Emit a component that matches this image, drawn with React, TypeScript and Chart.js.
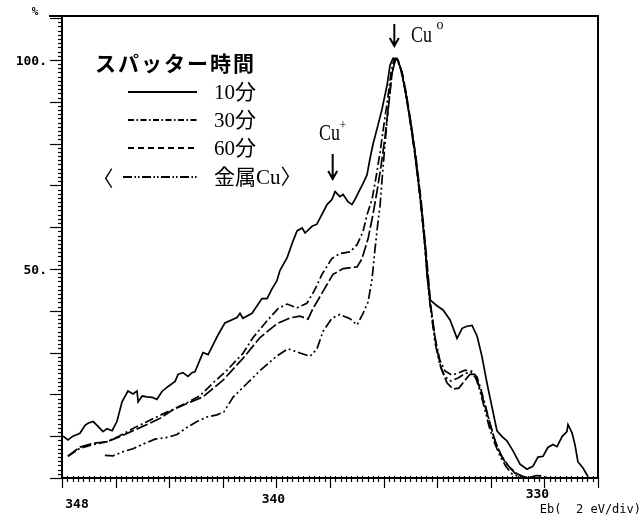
import React, { useEffect, useRef } from "react";
import { Chart, registerables } from "chart.js";

Chart.register(...registerables);

// ---- axis ----
const X_MIN = 328;
const X_MAX = 348;
const Y_MIN = 0;
const Y_MAX = 110.5;
const xTickLabels = [348, 340, 330];
const yTickLabels = [100, 50];

// ---- series: binding energy (eV) / intensity (%) ----
const eb10 = [347.96, 347.78, 347.59, 347.33, 347.14, 347.03, 346.84, 346.69, 346.47, 346.32, 346.13, 345.95, 345.76, 345.54, 345.35, 345.2, 345.16, 345.01, 344.83, 344.64, 344.46, 344.27, 344.04, 343.78, 343.67, 343.49, 343.3, 343.15, 343.04, 342.85, 342.74, 342.55, 342.37, 342.18, 341.92, 341.47, 341.36, 341.25, 340.91, 340.54, 340.35, 340.16, 339.98, 339.87, 339.6, 339.42, 339.23, 339.04, 338.93, 338.67, 338.49, 338.11, 337.93, 337.81, 337.63, 337.51, 337.33, 337.18, 337.07, 336.96, 336.77, 336.62, 336.51, 336.4, 336.21, 336.06, 335.87, 335.76, 335.65, 335.5, 335.35, 335.2, 335.01, 334.83, 334.64, 334.46, 334.38, 334.27, 334.01, 333.78, 333.52, 333.26, 333.07, 332.89, 332.7, 332.51, 332.33, 332.14, 331.96, 331.77, 331.58, 331.4, 331.17, 330.91, 330.65, 330.43, 330.24, 330.05, 329.87, 329.68, 329.53, 329.34, 329.16, 329.12, 328.97, 328.86, 328.75, 328.56, 328.37];
const int10 = [10.0, 9.1, 10.0, 10.7, 12.6, 13.1, 13.5, 12.6, 11.1, 11.8, 11.3, 13.5, 18.2, 20.8, 20.1, 20.8, 18.2, 19.6, 19.4, 19.3, 18.8, 20.7, 21.9, 23.1, 24.8, 25.2, 24.3, 25.2, 25.4, 28.3, 30.0, 29.5, 31.8, 34.2, 37.1, 38.4, 39.4, 38.2, 39.4, 42.9, 42.9, 45.3, 47.2, 49.6, 52.7, 56.0, 59.1, 59.8, 58.6, 60.2, 60.7, 65.4, 66.6, 68.5, 67.3, 67.8, 66.1, 65.4, 66.6, 68.0, 70.4, 72.5, 76.3, 79.7, 84.4, 88.2, 94.0, 98.7, 100.4, 100.4, 97.7, 92.9, 85.8, 77.8, 67.5, 56.3, 48.4, 42.6, 41.2, 40.2, 37.8, 33.4, 35.8, 36.3, 36.5, 33.9, 29.1, 22.6, 17.1, 11.3, 9.9, 8.9, 6.5, 3.3, 2.1, 2.8, 5.0, 5.2, 7.3, 8.0, 7.5, 9.9, 11.1, 12.8, 10.8, 8.0, 3.9, 2.4, 0.3];

const eb30 = [347.78, 347.33, 346.84, 346.32, 345.84, 345.39, 344.79, 344.34, 343.86, 343.34, 342.85, 342.37, 341.84, 341.25, 340.87, 340.35, 339.94, 339.6, 339.23, 338.86, 338.56, 338.3, 337.93, 337.63, 337.25, 336.99, 336.77, 336.62, 336.43, 336.28, 336.13, 335.99, 335.84, 335.72, 335.61, 335.5, 335.35, 335.2, 335.01, 334.83, 334.64, 334.46, 334.27, 334.08, 333.9, 333.71, 333.45, 333.22, 332.96, 332.7, 332.51, 332.37, 332.22, 332.03, 331.84, 331.66, 331.4, 331.1, 330.8, 330.54, 330.2, 329.5, 328.2];
const int30 = [5.2, 7.1, 8.0, 8.7, 10.1, 11.7, 13.6, 15.0, 16.4, 18.0, 19.7, 22.7, 25.8, 29.8, 33.6, 37.6, 40.5, 41.6, 40.7, 41.8, 45.1, 48.7, 52.5, 53.7, 54.1, 55.8, 58.9, 62.9, 66.7, 72.0, 78.0, 84.4, 91.1, 97.1, 100.2, 100.2, 97.5, 92.7, 85.5, 77.4, 67.1, 55.6, 41.9, 33.5, 28.2, 25.6, 24.6, 25.1, 25.8, 25.5, 24.1, 21.2, 17.8, 13.0, 8.9, 5.8, 3.2, 1.2, 0.2, 0, 0, 0, 0];

const eb60 = [347.78, 347.33, 346.84, 346.32, 345.84, 345.39, 344.79, 344.34, 343.86, 343.34, 342.74, 341.99, 341.25, 340.61, 339.98, 339.49, 339.12, 338.82, 338.63, 338.19, 337.89, 337.51, 336.99, 336.81, 336.58, 336.4, 336.25, 336.1, 335.95, 335.8, 335.69, 335.57, 335.46, 335.31, 335.16, 334.98, 334.79, 334.6, 334.42, 334.23, 334.04, 333.86, 333.63, 333.41, 333.19, 332.96, 332.78, 332.63, 332.48, 332.33, 332.18, 331.99, 331.81, 331.58, 331.32, 331.02, 330.72, 330.5, 330.3, 330.1, 329.9, 329.7, 328.2];
const int60 = [5.2, 7.4, 8.3, 8.7, 9.9, 11.2, 12.9, 14.3, 16.3, 17.8, 19.4, 23.4, 28.6, 33.6, 36.9, 38.3, 38.7, 38.0, 40.6, 45.4, 48.7, 50.1, 50.5, 52.4, 57.2, 62.9, 68.4, 74.4, 81.5, 89.9, 96.6, 100.1, 99.9, 97.0, 92.2, 85.0, 76.6, 66.3, 54.4, 40.7, 31.8, 26.3, 22.7, 21.3, 21.5, 23.4, 24.8, 24.8, 22.9, 19.7, 16.4, 12.1, 8.2, 5.1, 2.7, 1.0, 0.2, 0.2, 0.6, 0.5, 0.1, 0, 0];

const ebCu = [346.4, 346.1, 345.72, 345.35, 344.98, 344.53, 344.08, 343.71, 343.34, 342.96, 342.59, 342.22, 341.96, 341.62, 341.1, 340.61, 339.98, 339.57, 339.12, 338.75, 338.49, 338.26, 337.93, 337.63, 337.25, 336.99, 336.77, 336.58, 336.43, 336.32, 336.21, 336.13, 336.02, 335.91, 335.8, 335.69, 335.57, 335.46, 335.31, 335.16, 334.98, 334.79, 334.6, 334.42, 334.27, 334.08, 333.9, 333.71, 333.49, 333.22, 332.96, 332.74, 332.55, 332.4, 332.25, 332.07, 331.88, 331.66, 331.43, 331.21, 330.91, 330.6, 329.0];
const intCu = [5.4, 5.3, 6.3, 7.0, 8.1, 9.3, 9.7, 10.4, 12.1, 13.5, 14.6, 15.1, 15.8, 19.3, 22.6, 25.7, 29.2, 30.9, 29.9, 29.1, 30.8, 35.1, 38.2, 39.1, 38.1, 36.6, 39.3, 42.1, 47.6, 54.8, 61.2, 65.3, 74.4, 82.7, 90.5, 96.6, 99.9, 99.9, 97.0, 91.7, 84.0, 75.4, 65.1, 52.7, 41.6, 32.3, 27.1, 24.2, 23.2, 23.9, 25.0, 25.3, 23.8, 20.7, 17.1, 12.5, 8.7, 5.3, 2.7, 1.0, 0.2, 0, 0];

const legendTitle = "スパッター時間";
const seriesLabels = ["10分", "30分", "60分", "金属Cu〉"];

const plotDash = [[], [9, 3, 2, 3], [12, 3], [10, 3, 2, 3, 2, 3]];
const legendDash = [[], [6, 2.5, 1.5, 2.5], [6, 4], [9, 2.5, 1.5, 2, 1.5, 2.5]];

const toPts = (xs: number[], ys: number[]) => xs.map((x, i) => ({ x, y: ys[i] }));

function txt(ctx: CanvasRenderingContext2D, s: string, x: number, y: number, font: string, align: CanvasTextAlign = "left", sx = 1) {
  ctx.save();
  ctx.font = font;
  ctx.textAlign = align;
  ctx.textBaseline = "middle";
  ctx.translate(x, y);
  ctx.scale(sx, 1);
  ctx.fillText(s, 0, 0);
  ctx.restore();
}

function arrowDown(ctx: CanvasRenderingContext2D, x: number, y0: number, y1: number) {
  ctx.save();
  ctx.lineWidth = 2;
  ctx.setLineDash([]);
  ctx.beginPath();
  ctx.moveTo(x, y0);
  ctx.lineTo(x, y1);
  ctx.moveTo(x - 4.5, y1 - 8);
  ctx.lineTo(x, y1);
  ctx.lineTo(x + 4.5, y1 - 8);
  ctx.stroke();
  ctx.restore();
}

const decoPlugin = {
  id: "deco",
  afterDatasetsDraw(chart: any) {
    const { ctx, chartArea: a, scales } = chart;
    const xs = scales.x;
    const ys = scales.y;
    ctx.save();
    ctx.strokeStyle = "#000";
    ctx.fillStyle = "#000";
    ctx.setLineDash([]);

    // frame
    ctx.lineWidth = 2;
    ctx.beginPath();
    ctx.moveTo(a.left - 13, a.top);
    ctx.lineTo(a.right, a.top);
    ctx.lineTo(a.right, a.bottom);
    ctx.lineTo(a.left, a.bottom);
    ctx.lineTo(a.left, a.top);
    ctx.stroke();

    // y ticks
    ctx.lineWidth = 1.2;
    for (let v = Y_MIN; v <= 110; v++) {
      const py = Math.round(ys.getPixelForValue(v)) + 0.5;
      const major = v % 10 === 0;
      ctx.beginPath();
      ctx.moveTo(a.left - (major ? 12 : 4), py);
      ctx.lineTo(a.left + 1, py);
      ctx.stroke();
    }
    // x ticks
    for (let k = 0; k <= 100; k++) {
      const v = X_MIN + k * 0.2;
      const px = Math.round(xs.getPixelForValue(v)) + 0.5;
      const major = k % 10 === 0;
      ctx.beginPath();
      ctx.moveTo(px, a.bottom - 2);
      ctx.lineTo(px, a.bottom + (major ? 10 : 4));
      ctx.stroke();
    }

    // y labels
    const monoB = 'bold 13px "DejaVu Sans Mono"';
    yTickLabels.forEach((v) => {
      txt(ctx, v + ".", a.left - 15, ys.getPixelForValue(v) + 2, monoB, "right");
    });
    txt(ctx, "%", 35, 12, 'bold 11px "DejaVu Sans Mono"', "center");

    // x labels (scan is slightly tilted)
    const xOff = [15, -3, -7];
    const yLab = [505, 500, 495];
    xTickLabels.forEach((v, i) => {
      txt(ctx, String(v), xs.getPixelForValue(v) + xOff[i], yLab[i], monoB, "center");
    });
    txt(ctx, "Eb(  2 eV/div)", 641, 510, '12px "DejaVu Sans Mono"', "right");

    // legend
    const cjk = 'bold 21px "Noto Sans CJK JP"';
    legendTitle.split("").forEach((ch, i) => txt(ctx, ch, 95 + i * 23, 63, cjk));
    const rows = [92, 120, 148, 177];
    seriesLabels.forEach((s, i) => {
      ctx.save();
      ctx.lineWidth = 1.8;
      ctx.setLineDash(legendDash[i]);
      ctx.beginPath();
      ctx.moveTo(i === 3 ? 123 : 128, rows[i]);
      ctx.lineTo(197, rows[i]);
      ctx.stroke();
      ctx.restore();
      txt(ctx, s, 214, rows[i] + 1, '21px "Liberation Serif", "Noto Sans CJK JP"');
    });
    txt(ctx, "〈", 103, 178, '21px "Noto Sans CJK JP"', "center");

    // annotations
    const serif = '23px "Liberation Serif"';
    const p0 = xs.getPixelForValue(335.6);
    arrowDown(ctx, p0, 24, 46);
    txt(ctx, "Cu", 411, 36, serif, "left", 0.78);
    txt(ctx, "o", 440, 25, '14px "Liberation Serif"', "center");
    const p1 = xs.getPixelForValue(337.9);
    arrowDown(ctx, p1, 154, 179);
    txt(ctx, "Cu", 319, 134, serif, "left", 0.78);
    txt(ctx, "+", 343, 126, '13px "Liberation Serif"', "center");

    ctx.restore();
  },
};

export default function App() {
  const ref = useRef<HTMLCanvasElement | null>(null);
  useEffect(() => {
    if (!ref.current) return;
    const series = [toPts(eb10, int10), toPts(eb30, int30), toPts(eb60, int60), toPts(ebCu, intCu)];
    const chart = new Chart(ref.current, {
      type: "line",
      data: {
        datasets: series.map((d, i) => ({
          label: seriesLabels[i],
          data: d,
          borderColor: "#000",
          borderWidth: 1.7,
          borderDash: plotDash[i],
          pointRadius: 0,
          tension: 0,
          fill: false,
        })),
      },
      options: {
        responsive: false,
        animation: false,
        devicePixelRatio: 1,
        layout: { padding: { left: 62, right: 45, top: 16, bottom: 43 } },
        plugins: { legend: { display: false }, tooltip: { enabled: false } },
        scales: {
          x: { type: "linear", min: X_MIN, max: X_MAX, reverse: true, display: false },
          y: { type: "linear", min: Y_MIN, max: Y_MAX, display: false },
        },
      },
      plugins: [decoPlugin],
    } as any);
    return () => chart.destroy();
  }, []);
  return (
    <div style={{ position: "fixed", left: 0, top: 0, width: 643, height: 521, background: "#fff" }}>
      <canvas ref={ref} width={643} height={521} style={{ width: 643, height: 521 }} />
    </div>
  );
}
